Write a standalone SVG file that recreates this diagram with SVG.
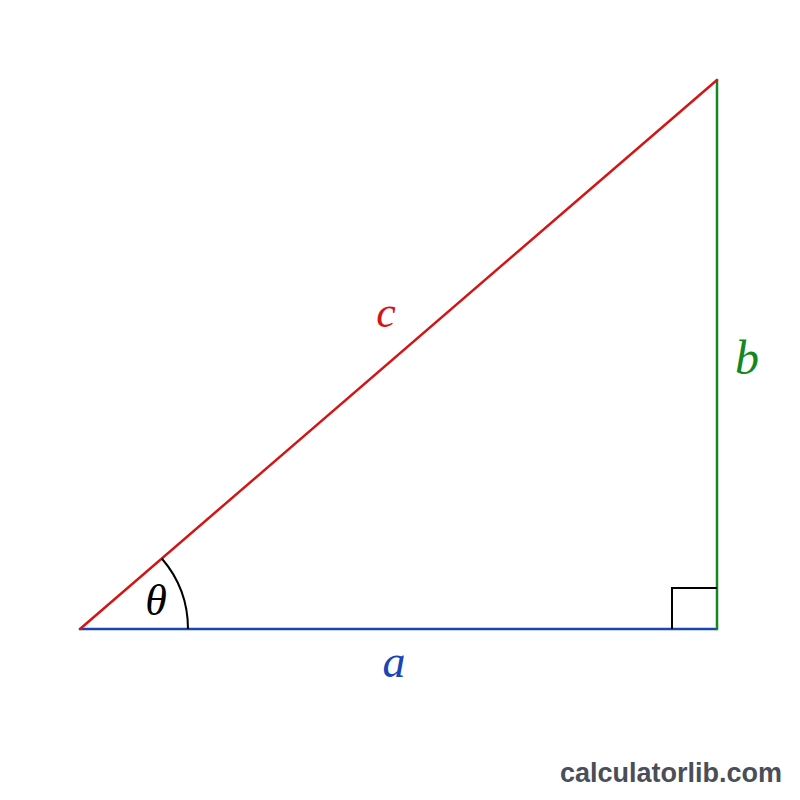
<svg xmlns="http://www.w3.org/2000/svg" width="800" height="800" viewBox="0 0 800 800">
<style>
.lbl{font-family:"Liberation Serif","Times New Roman",serif;font-style:italic;text-anchor:middle}
.edge{stroke-width:2.5;fill:none;stroke-linecap:round}
</style>
<rect width="800" height="800" fill="#ffffff"/>
<g id="connectors">
<line class="edge" x1="80" y1="629" x2="717" y2="629" stroke="#1846b4"/>
<line class="edge" x1="717" y1="629" x2="717" y2="80" stroke="#13881c"/>
<line class="edge" x1="80" y1="629" x2="717" y2="80" stroke="#d41515"/>
<path d="M188 629 A108 108 0 0 0 161.8 558.5" fill="none" stroke="#000" stroke-width="2"/>
<polyline points="672,629 672,588 717,588" fill="none" stroke="#000" stroke-width="2"/>
</g>
<g id="label-c"><text class="lbl" x="386" y="327" font-size="44" fill="#d41515">c</text></g>
<g id="label-b"><text class="lbl" x="747" y="374" font-size="48" fill="#13881c">b</text></g>
<g id="label-a"><text class="lbl" x="394" y="677" font-size="46" fill="#1846b4">a</text></g>
<g id="label-theta"><text class="lbl" x="156" y="615" font-size="44" fill="#000">θ</text></g>
<g id="watermark"><text x="782" y="782" font-family="Liberation Sans, Arial, sans-serif" font-weight="bold" font-size="27" fill="#4a4e58" text-anchor="end">calculatorlib.com</text></g>
</svg>
